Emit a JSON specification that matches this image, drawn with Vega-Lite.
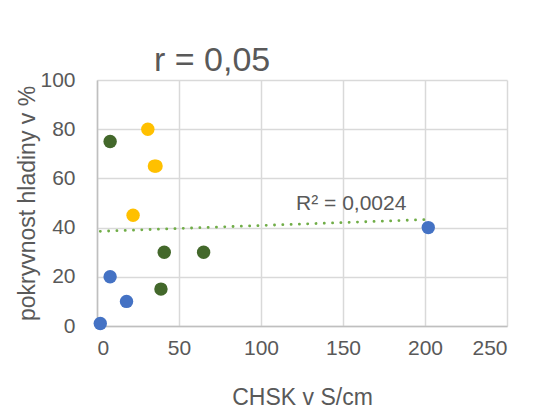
{
  "$schema": "https://vega.github.io/schema/vega-lite/v6.json",
  "width": 410,
  "height": 246,
  "autosize": {"type": "none"},
  "padding": {"left": 97, "top": 80, "right": 36, "bottom": 86},
  "background": "white",
  "title": {
    "text": "r = 0,05",
    "anchor": "start",
    "dx": 137,
    "offset": -36,
    "baseline": "alphabetic",
    "font": "Liberation Sans",
    "fontSize": 34,
    "fontWeight": "normal",
    "color": "#595959"
  },
  "config": {
    "view": {"stroke": null},
    "font": "Liberation Sans",
    "axis": {
      "labelFont": "Liberation Sans",
      "titleFont": "Liberation Sans",
      "labelFontSize": 21,
      "titleFontSize": 23,
      "labelColor": "#595959",
      "titleColor": "#595959",
      "titleFontWeight": "normal",
      "gridColor": "#d9d9d9",
      "gridWidth": 1.5,
      "domainColor": "#bfbfbf",
      "domainWidth": 1.5,
      "ticks": false,
      "labelOverlap": false
    }
  },
  "datasets": {
    "body": [
      {"CHSK": 8, "pokryvnost": 75, "skupina": "B"},
      {"CHSK": 41, "pokryvnost": 30, "skupina": "B"},
      {"CHSK": 65, "pokryvnost": 30, "skupina": "B"},
      {"CHSK": 39, "pokryvnost": 15, "skupina": "B"},
      {"CHSK": 31, "pokryvnost": 80, "skupina": "C"},
      {"CHSK": 35, "pokryvnost": 65, "skupina": "C"},
      {"CHSK": 36, "pokryvnost": 65, "skupina": "C"},
      {"CHSK": 22, "pokryvnost": 45, "skupina": "C"},
      {"CHSK": 8, "pokryvnost": 20, "skupina": "A"},
      {"CHSK": 18, "pokryvnost": 10, "skupina": "A"},
      {"CHSK": 2, "pokryvnost": 1, "skupina": "A"},
      {"CHSK": 202, "pokryvnost": 40, "skupina": "A"}
    ],
    "trend": [
      {"CHSK": 2, "pokryvnost": 38.5},
      {"CHSK": 202, "pokryvnost": 43.3}
    ],
    "label": [
      {"CHSK": 155, "pokryvnost": 47, "text": "R² = 0,0024"}
    ]
  },
  "layer": [
    {
      "data": {"name": "body"},
      "mark": {"type": "point", "shape": "circle", "filled": true, "opacity": 1, "size": 180},
      "encoding": {
        "x": {
          "field": "CHSK", "type": "quantitative",
          "scale": {"domain": [0, 250], "nice": false},
          "axis": {"values": [0, 50, 100, 150, 200, 250], "title": "CHSK v S/cm", "labelPadding": 11, "titlePadding": 28}
        },
        "y": {
          "field": "pokryvnost", "type": "quantitative",
          "scale": {"domain": [0, 100], "nice": false},
          "axis": {"values": [0, 20, 40, 60, 80, 100], "title": "pokryvnost hladiny v %", "labelPadding": 22, "titlePadding": 0}
        },
        "color": {
          "field": "skupina", "type": "nominal",
          "scale": {"domain": ["A", "B", "C"], "range": ["#4472C4", "#43682B", "#FFC000"]},
          "legend": null
        }
      }
    },
    {
      "data": {"name": "trend"},
      "mark": {"type": "line", "color": "#70AD47", "strokeWidth": 2.8, "strokeCap": "round", "strokeDash": [0.1, 8.2]},
      "encoding": {
        "x": {"field": "CHSK", "type": "quantitative"},
        "y": {"field": "pokryvnost", "type": "quantitative"}
      }
    },
    {
      "data": {"name": "label"},
      "mark": {"type": "text", "font": "Liberation Sans", "fontSize": 21, "color": "#595959", "align": "center", "baseline": "alphabetic"},
      "encoding": {
        "x": {"field": "CHSK", "type": "quantitative"},
        "y": {"field": "pokryvnost", "type": "quantitative"},
        "text": {"field": "text"}
      }
    }
  ]
}
